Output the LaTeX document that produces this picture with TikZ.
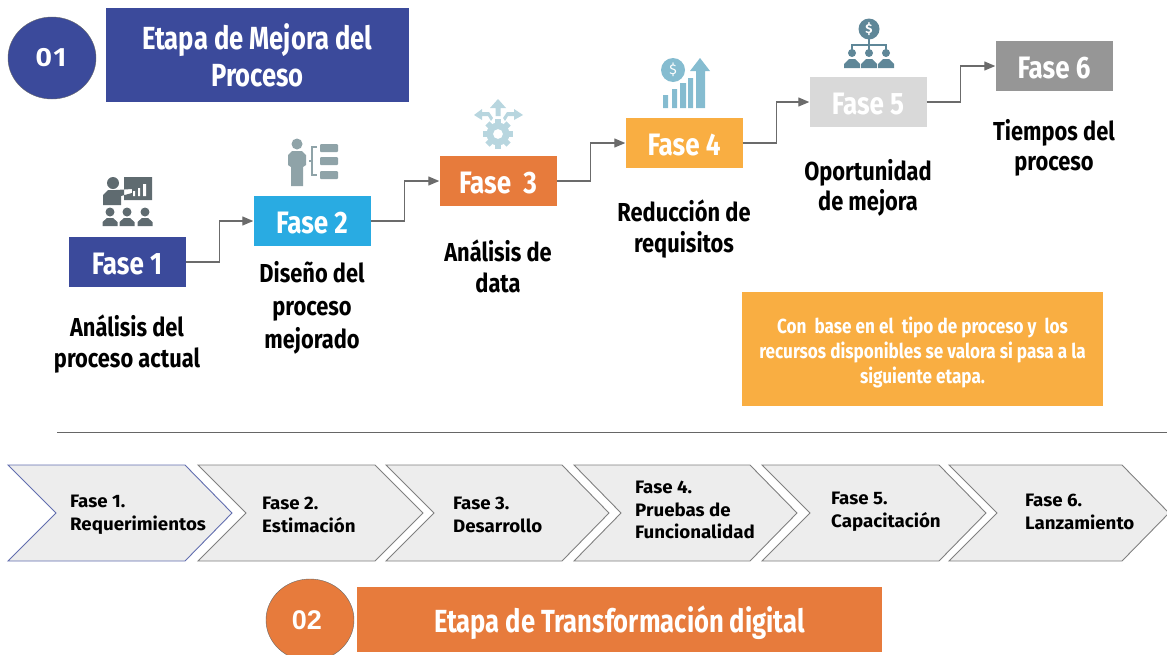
\documentclass[tikz,border=0pt]{standalone}
\usepackage{fontspec}
\setmainfont{Fira Sans}
\newfontfamily\estrecha{Fira Sans}[FakeStretch=0.84]
\newfontfamily\masestrecha{Fira Sans}[FakeStretch=0.80]
\newfontfamily\ancha{Fira Sans}[FakeStretch=1.04]
\newfontfamily\redonda{Open Sans}[FakeStretch=1.15]
\newfontfamily\arial{Liberation Sans}
\usetikzlibrary{positioning,arrows.meta,shapes.geometric}
\definecolor{azulfase}{HTML}{3B4A9B}
\definecolor{celeste}{HTML}{29ABE2}
\definecolor{naranja}{HTML}{E77B3C}
\definecolor{ambar}{HTML}{F9AE42}
\definecolor{grisclaro}{HTML}{D9D9D9}
\definecolor{grisfase}{HTML}{969696}
\definecolor{flechagris}{HTML}{EDEDED}
\definecolor{iconouno}{HTML}{5F6B70}
\definecolor{iconodos}{HTML}{8FA3A8}
\definecolor{iconotres}{HTML}{B8D6DF}
\definecolor{iconocuatro}{HTML}{85BCD0}
\definecolor{iconocinco}{HTML}{5F8798}
\tikzset{
  fasebox/.style={minimum width=117pt, minimum height=50pt, inner sep=0pt, text height=24pt, text depth=0pt, text=white, font=\estrecha\bfseries\fontsize{31}{33}\selectfont},
  faselabel/.style={align=center, font=\estrecha\bfseries\fontsize{26}{30.5}\selectfont},
  titulo/.style={inner sep=0pt, align=center, text=white, font=\masestrecha\bfseries\fontsize{32}{37}\selectfont},
  conector/.style={draw=black!58, line width=1.3pt, -{Triangle[length=11pt,width=9pt]}},
  pasoflecha/.style={draw=black!50, fill=flechagris, line width=.9pt, line join=miter},
  pasotexto/.style={align=left, anchor=west, inner sep=0pt, font=\ancha\bfseries\fontsize{18}{22.5}\selectfont},
}
\begin{document}
\begin{tikzpicture}[x=1pt,y=-1pt]
  \useasboundingbox (0,0) rectangle (1167,654);
  % cabecera de la etapa 1
  \node[draw=black!60, fill=azulfase, ellipse, minimum width=88pt, minimum height=82pt, inner sep=0pt, text=white, font=\redonda\bfseries\fontsize{25}{27}\selectfont] (uno) at (52,58) {01};
  \node[titulo, fill=azulfase, minimum width=303pt, minimum height=94pt] (etapauno) at (257.5,55) {Etapa de Mejora del\\Proceso};

  % cajas de las fases
  \node[fasebox, fill=azulfase] (f1) at (127,262) {Fase 1};
  \node[fasebox, fill=celeste] (f2) at (312,221) {Fase 2};
  \node[fasebox, fill=naranja] (f3) at (498,181) {Fase\ \ 3};
  \node[fasebox, fill=ambar] (f4) at (684,143) {Fase 4};
  \node[fasebox, fill=grisclaro] (f5) at (868,102) {Fase 5};
  \node[fasebox, fill=grisfase] (f6) at (1054,66) {Fase 6};
  \foreach \a/\b in {f1/f2,f2/f3,f3/f4,f4/f5,f5/f6} {
    \draw[conector] (\a.east) -- ++(34,0) |- (\b.west);
  }

  % etiquetas
  \node[faselabel] (l1) at (127,344) {Análisis del\\proceso actual};
  \node[faselabel] (l2) at (312,307.5) {Diseño del\\[2.5pt]proceso\\[2.5pt]mejorado};
  \node[faselabel] (l3) at (498,266.5) {Análisis de\\data};
  \node[faselabel] (l4) at (684,229) {Reducción de\\requisitos};
  \node[faselabel] (l5) at (868,188) {Oportunidad\\de mejora};
  \node[faselabel] (l6) at (1054,148) {Tiempos del\\proceso};

  % iconos
  \fill[iconouno] (124,177) rectangle (152,200) (113,183) circle (6)
    (103,205) -- (103,195) -- (108,190) -- (116,190) -- (132,189) -- (132,193) -- (121,196) -- (121,205) -- cycle;
  \fill[white] (133,191) rectangle (135,196) (138,188) rectangle (140,196) (143,184) rectangle (146,196);
  \foreach \x in {110,127,145} {
    \fill[iconouno] (\x,212) circle (4.5) (\x-7.5,226) -- (\x-7.5,222) -- (\x-3,218) -- (\x+3,218) -- (\x+7.5,222) -- (\x+7.5,226) -- cycle;
  }
  \fill[iconodos] (297,144) circle (5.5) (288,155) -- (292,151) -- (302,151) -- (306,155) -- (306,165) -- (303,167) -- (303,186) -- (291,186) -- (291,167) -- (288,165) -- cycle;
  \foreach \y in {144,157,171} {
    \fill[iconodos, rounded corners=1pt] (320,\y) rectangle (338,\y+8);
  }
  \draw[iconodos, line width=1.2pt] (317,147) -- (312,147) -- (312,175) -- (317,175) (312,161) -- (309,161);
  % engranaje
  \foreach \ang in {0,45,...,315} {
    \fill[iconotres, rotate around={\ang:(498,134)}] (495,119) rectangle (501,124);
  }
  \fill[iconotres, even odd rule] (498,134) circle (11.5) (498,134) circle (5);
  \fill[iconotres] (495.5,116) -- (495.5,108) -- (490,108) -- (498,99) -- (506,108) -- (500.5,108) -- (500.5,116) -- cycle;
  \fill[iconotres] (491,121) -- (488,116) -- (482,116) -- (482,120) -- (474,115) -- (482,109) -- (482,112) -- (489,112) -- (493,118) -- cycle;
  \fill[iconotres] (505,121) -- (508,116) -- (514,116) -- (514,120) -- (523,115) -- (514,109) -- (514,112) -- (507,112) -- (503,118) -- cycle;
  % monedas y barras
  \node[circle, fill=iconocuatro, minimum size=24pt, inner sep=0pt, text=white, font=\fontsize{14}{14}\selectfont] (moneda) at (673,70) {\$};
  \fill[iconocuatro] (663,95) rectangle (668,108) (672,89) rectangle (677,108) (680,83) rectangle (686,108) (688,78) rectangle (693,108)
    (696,108) -- (696,71) -- (690,71) -- (700,58) -- (710,71) -- (705,71) -- (705,108) -- cycle;
  \node[circle, fill=iconocinco, minimum size=21pt, inner sep=0pt, text=white, font=\bfseries\fontsize{13}{13}\selectfont] (dinero) at (869,29) {\$};
  \draw[iconocinco, line width=1.3pt] (869,39) -- (869,50) (852,50) -- (852,45) -- (886,45) -- (886,50);
  \foreach \x in {852,869,886} {
    \fill[iconocinco] (\x,53) circle (4) (\x-8,68) -- (\x-8,64) -- (\x-3,59) -- (\x+3,59) -- (\x+8,64) -- (\x+8,68) -- cycle;
  }

  % nota
  \node[fill=ambar, minimum width=361pt, minimum height=114pt, inner sep=0pt] (nota) at (922.5,349) {};
  \node[align=center, inner sep=0pt, text=white, font=\estrecha\bfseries\fontsize{20.4}{25}\selectfont] (notatexto) at (922.5,352) {Con\ \ base en el\ \ tipo de proceso y\ \ los\\recursos disponibles se valora si pasa a la\\siguiente etapa.};

  % separador
  \coordinate (sepa) at (57,432);
  \coordinate (sepb) at (1167,432);
  \draw[black!60, line width=1pt] (sepa) -- (sepb);

  % flechas de la etapa 2
  \foreach \izq/\ent/\hom/\pun in {198/246/375/423,386/434/562/609,574/621/750/797,762/810/939/986,949/997/1122/1169} {
    \draw[pasoflecha] (\izq,465) -- (\hom,465) -- (\pun,513) -- (\hom,561) -- (\izq,561) -- (\ent,513) -- cycle;
  }
  \draw[pasoflecha, draw=azulfase!80] (8,465) -- (185,465) -- (232,513) -- (185,561) -- (8,561) -- (56,513) -- cycle;
  \node[pasotexto] (p1) at (70,515) {Fase 1.\\Requerimientos};
  \node[pasotexto] (p2) at (262,515) {Fase 2.\\Estimación};
  \node[pasotexto] (p3) at (453,515) {Fase 3.\\Desarrollo};
  \node[pasotexto] (p4) at (635,510) {Fase 4.\\Pruebas de\\Funcionalidad};
  \node[pasotexto] (p5) at (831,512) {Fase 5.\\Capacitación};
  \node[pasotexto] (p6) at (1025,512) {Fase 6.\\Lanzamiento};

  % cabecera de la etapa 2
  \node[draw=black!60, fill=naranja, ellipse, minimum width=88pt, minimum height=82pt, inner sep=0pt, text=white, font=\arial\bfseries\fontsize{27}{29}\selectfont] (dos) at (310,620) {02\rule{6pt}{0pt}};
  \node[titulo, fill=naranja, minimum width=525pt, minimum height=65pt, text height=26pt, text depth=0pt] (etapados) at (619.5,619.5) {Etapa de Transformación digital};
\end{tikzpicture}
\end{document}
